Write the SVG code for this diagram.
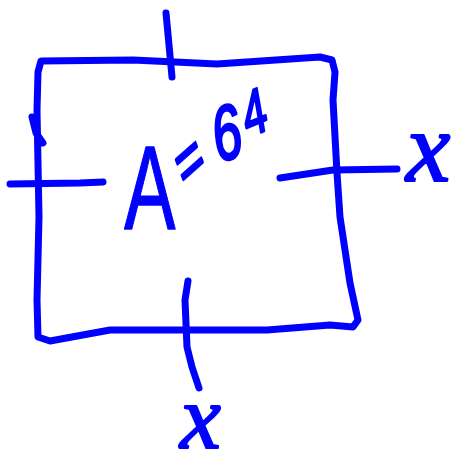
<svg xmlns="http://www.w3.org/2000/svg" width="464" height="464" viewBox="0 0 464 464">
<style>
.pen{fill:none;stroke:#0000ff;stroke-width:7;stroke-linecap:round;stroke-linejoin:round}
.hand{fill:#0000ff;stroke:#0000ff;stroke-linejoin:round}
</style>
<rect width="464" height="464" fill="#ffffff"/>
<g id="square">
<path class="pen" d="M41,61 L133,60 L217,64 L320,57 L332,60 L335,72 L333,100 L337,173 L340,217 L350,283 L358,320 L353,327 L330,325 L267,330 L110,330 L50,341 L38,337 L37,300 L39,217 L37,110 L38,72 Z"/>
<path class="pen" d="M32,117 L36,133 L43,143"/>
</g>
<g id="ticks">
<path class="pen" d="M166,13 L172,77"/>
<path class="pen" d="M10,184 L80,183 L103,182"/>
<path class="pen" d="M280,178 L333,170 L397,169"/>
<path class="pen" d="M188,281 L185,300 L187,347 L192,367 L199,388"/>
</g>
<g id="area-label">
<text class="hand" transform="scale(0.65,1)" font-family="'Liberation Sans', Arial, sans-serif" stroke-width="1.5"><tspan x="191" y="229" font-size="118">A</tspan><tspan x="285" y="192" font-size="72" rotate="-30" stroke-width="3">=</tspan><tspan x="332" y="162" font-size="78" rotate="-8" stroke-width="3">6</tspan><tspan x="380" y="138" font-size="64" rotate="-15" stroke-width="3">4</tspan></text>
</g>
<g id="side-labels">
<text class="hand" x="406" y="181" font-family="'Liberation Serif', 'Times New Roman', serif" font-style="italic" font-size="100" stroke-width="2">x</text>
<text class="hand" x="180" y="448" font-family="'Liberation Serif', 'Times New Roman', serif" font-style="italic" font-size="92" stroke-width="2">x</text>
</g>
</svg>
